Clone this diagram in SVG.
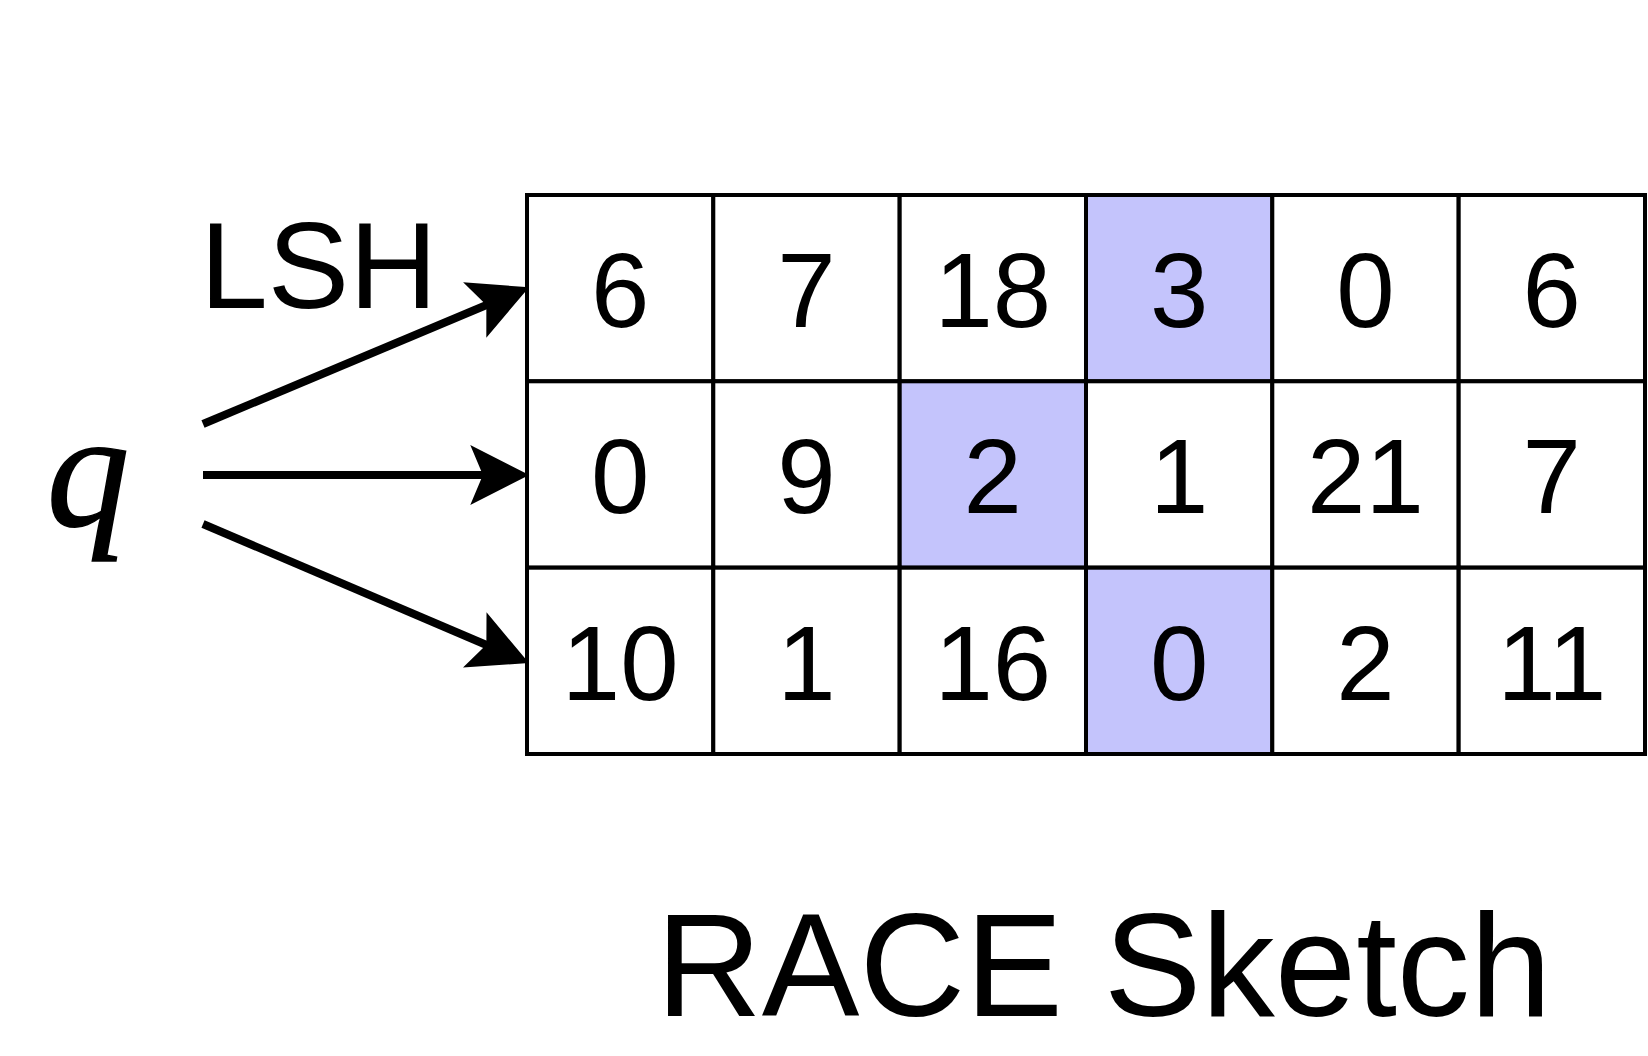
<svg xmlns="http://www.w3.org/2000/svg" width="1648" height="1056" viewBox="0 0 1648 1056">
<style>
.cell{fill:#ffffff;stroke:#000000;stroke-width:4}
.hl{fill:#c4c4fc}
.num{font-family:"Liberation Sans",Arial,sans-serif;font-size:105px;text-anchor:middle;fill:#000}
.lbl{font-family:"Liberation Sans",Arial,sans-serif;fill:#000}
.conn{stroke:#000;stroke-width:8;fill:none}
</style>
<defs>
<marker id="ah" markerUnits="userSpaceOnUse" markerWidth="60" markerHeight="60" viewBox="0 0 56 57" refX="14" refY="28.5" orient="auto">
<path d="M0,0 L56,28.5 L0,57 L12,28.5 Z" fill="#000"/>
</marker>
</defs>
<rect width="1648" height="1056" fill="#ffffff"/>
<g id="q"><text x="88" y="526" text-anchor="middle" stroke="#000" stroke-width="1.5" style="font-family:'Liberation Serif',serif;font-style:italic;font-size:166px;fill:#000">q</text></g>
<g id="lsh"><text class="lbl" x="200" y="308" style="font-size:122px">LSH</text></g>
<g id="sketch">
<g id="row0">
<rect class="cell" x="527" y="195" width="186.3" height="186.3"/>
<rect class="cell" x="713.3" y="195" width="186.3" height="186.3"/>
<rect class="cell" x="899.7" y="195" width="186.3" height="186.3"/>
<rect class="cell hl" x="1086" y="195" width="186.3" height="186.3"/>
<rect class="cell" x="1272.3" y="195" width="186.3" height="186.3"/>
<rect class="cell" x="1458.7" y="195" width="186.3" height="186.3"/>
<text class="num" x="620.2" y="327">6</text>
<text class="num" x="806.5" y="327">7</text>
<text class="num" x="992.8" y="327">18</text>
<text class="num" x="1179.2" y="327">3</text>
<text class="num" x="1365.5" y="327">0</text>
<text class="num" x="1551.8" y="327">6</text>
</g>
<g id="row1">
<rect class="cell" x="527" y="381.3" width="186.3" height="186.3"/>
<rect class="cell" x="713.3" y="381.3" width="186.3" height="186.3"/>
<rect class="cell hl" x="899.7" y="381.3" width="186.3" height="186.3"/>
<rect class="cell" x="1086" y="381.3" width="186.3" height="186.3"/>
<rect class="cell" x="1272.3" y="381.3" width="186.3" height="186.3"/>
<rect class="cell" x="1458.7" y="381.3" width="186.3" height="186.3"/>
<text class="num" x="620.2" y="513">0</text>
<text class="num" x="806.5" y="513">9</text>
<text class="num" x="992.8" y="513">2</text>
<text class="num" x="1179.2" y="513">1</text>
<text class="num" x="1365.5" y="513">21</text>
<text class="num" x="1551.8" y="513">7</text>
</g>
<g id="row2">
<rect class="cell" x="527" y="567.7" width="186.3" height="186.3"/>
<rect class="cell" x="713.3" y="567.7" width="186.3" height="186.3"/>
<rect class="cell" x="899.7" y="567.7" width="186.3" height="186.3"/>
<rect class="cell hl" x="1086" y="567.7" width="186.3" height="186.3"/>
<rect class="cell" x="1272.3" y="567.7" width="186.3" height="186.3"/>
<rect class="cell" x="1458.7" y="567.7" width="186.3" height="186.3"/>
<text class="num" x="620.2" y="700">10</text>
<text class="num" x="806.5" y="700">1</text>
<text class="num" x="992.8" y="700">16</text>
<text class="num" x="1179.2" y="700">0</text>
<text class="num" x="1365.5" y="700">2</text>
<text class="num" x="1551.8" y="700">11</text>
</g>
</g>
<g id="connectors">
<line class="conn" x1="203" y1="424" x2="488.3" y2="304.3" marker-end="url(#ah)"/>
<line class="conn" x1="203" y1="475" x2="485" y2="475" marker-end="url(#ah)"/>
<line class="conn" x1="203" y1="524" x2="488.3" y2="645.7" marker-end="url(#ah)"/>
</g>
<g id="title"><text class="lbl" x="656" y="1016" style="font-size:146.5px">RACE Sketch</text></g>
</svg>
